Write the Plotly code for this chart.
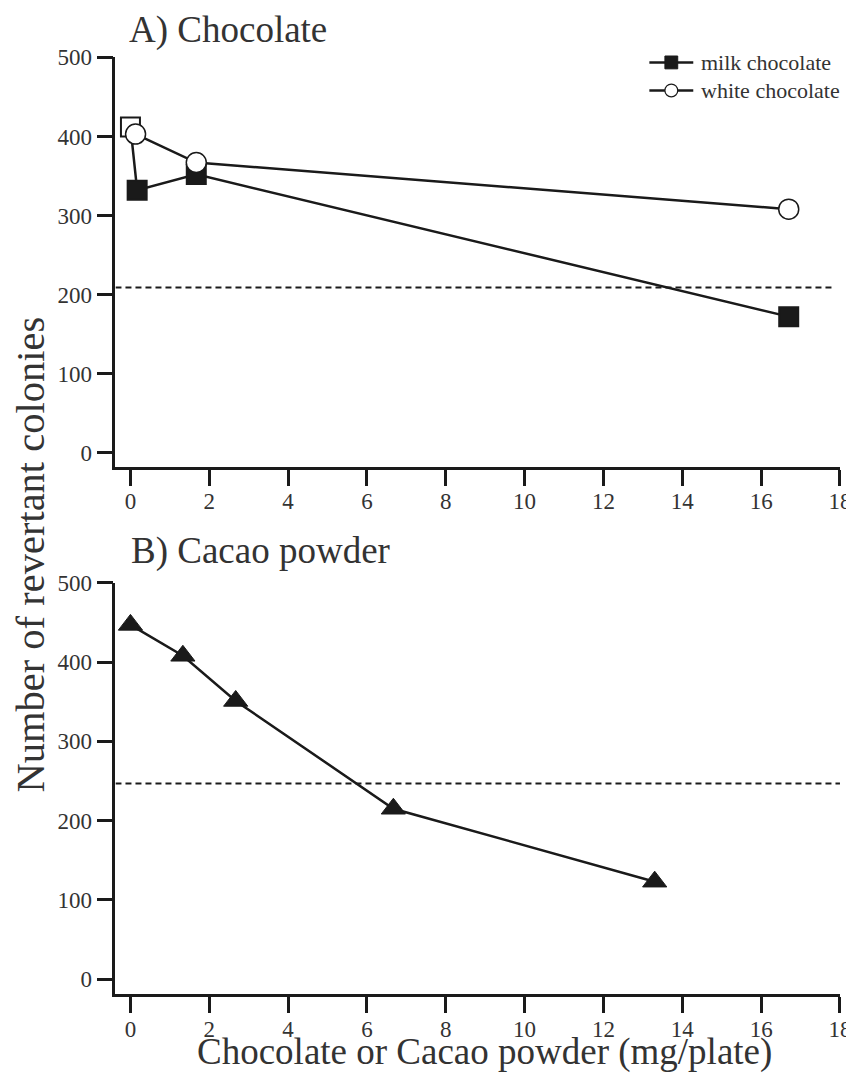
import plotly.graph_objects as go

# ---- data ----
milk_x = [0, 0.17, 1.67, 16.7]
milk_y = [412, 332, 352, 172]
white_x = [0.13, 1.67, 16.7]
white_y = [403, 367, 308]
cacao_x = [0, 1.33, 2.67, 6.67, 13.3]
cacao_y = [447, 408, 351, 215, 123]
control_a = 209
control_b = 247
x_ticks = [0, 2, 4, 6, 8, 10, 12, 14, 16, 18]
y_ticks = [0, 100, 200, 300, 400, 500]
legend_names = ["milk chocolate", "white chocolate"]

FONT = "Liberation Serif"
INK = "#1a1a1a"
TXT = "#333"

W, H = 854, 1075
OFF = 8
# measured page -> picture mapping of the photographing step
S, BX, BY = 0.988, -0.6, 11.7


def px(v):
    page = (v - BX) / S
    return (page - OFF) / W


def py(v):
    page = (v - BY) / S
    return 1 - (page - OFF) / H


fig = go.Figure()

fig.add_trace(go.Scatter(
    x=milk_x, y=milk_y, mode="lines+markers", name=legend_names[0],
    line=dict(color=INK, width=2.5),
    marker=dict(symbol="square", size=19, color=["white", INK, INK, INK],
                line=dict(color=INK, width=2)),
    xaxis="x", yaxis="y"))
fig.add_trace(go.Scatter(
    x=white_x, y=white_y, mode="lines+markers", name=legend_names[1],
    line=dict(color=INK, width=2.5),
    marker=dict(symbol="circle", size=20, color="white", line=dict(color=INK, width=1.5)),
    xaxis="x", yaxis="y"))
fig.add_trace(go.Scatter(
    x=cacao_x, y=cacao_y, mode="lines+markers", name="cacao powder",
    line=dict(color=INK, width=2.5),
    marker=dict(symbol="triangle-up", size=21, color=INK, line=dict(color=INK, width=1)),
    xaxis="x2", yaxis="y2"))

fig.add_shape(type="line", xref="x", yref="y", x0=-0.38, x1=17.85,
              y0=control_a, y1=control_a, line=dict(color=INK, width=2, dash="6px,4px"))
fig.add_shape(type="line", xref="x2", yref="y2", x0=-0.38, x1=18.1,
              y0=control_b, y1=control_b, line=dict(color=INK, width=2, dash="6px,4px"))

# legend key (drawn in paper space)
for i, name in enumerate(legend_names):
    yc = py(62 + 28 * i)
    fig.add_shape(type="line", xref="paper", yref="paper",
                  x0=px(650), x1=px(694), y0=yc, y1=yc, line=dict(color=INK, width=2.5))
    hx = 6.5 / W
    hy = 6.5 / H
    if i == 0:
        fig.add_shape(type="rect", xref="paper", yref="paper",
                      x0=px(672) - hx, x1=px(672) + hx, y0=yc - hy, y1=yc + hy,
                      fillcolor=INK, line=dict(color=INK, width=1))
    else:
        fig.add_shape(type="circle", xref="paper", yref="paper",
                      x0=px(672) - hx, x1=px(672) + hx, y0=yc - hy, y1=yc + hy,
                      fillcolor="white", line=dict(color=INK, width=1.2))
    fig.add_annotation(text=name, xref="paper", yref="paper", x=px(700), y=yc,
                       xanchor="left", yanchor="middle", showarrow=False,
                       font=dict(family=FONT, size=22, color=TXT))

xd = [px(115), px(841)]
axis_common = dict(
    showline=True, linecolor=INK, linewidth=2.5,
    ticks="outside", ticklen=16, tickwidth=2.5, tickcolor=INK,
    showgrid=False, zeroline=False,
    tickfont=dict(family=FONT, size=23, color=TXT),
)

fig.update_layout(
    width=W, height=H, margin=dict(l=0, r=0, t=0, b=0),
    paper_bgcolor="white", plot_bgcolor="white",
    font=dict(family=FONT, color=INK),
    showlegend=False,
    xaxis=dict(domain=xd, range=[-0.38, 18], tickvals=x_ticks, anchor="y",
               ticklabelstandoff=-4, ticklabeloverflow="allow", **axis_common),
    yaxis=dict(domain=[py(466), py(57)], range=[-18, 500], tickvals=y_ticks, anchor="x",
               **axis_common),
    xaxis2=dict(domain=xd, range=[-0.38, 18], tickvals=x_ticks, anchor="y2",
                ticklabelstandoff=-4, ticklabeloverflow="allow", **axis_common),
    yaxis2=dict(domain=[py(993), py(582)], range=[-19, 500], tickvals=y_ticks, anchor="x2",
                **axis_common),
)

fig.add_annotation(text="A) Chocolate", xref="paper", yref="paper",
                   x=px(127), y=py(30), xanchor="left", yanchor="middle",
                   showarrow=False, font=dict(family=FONT, size=37, color=TXT))
fig.add_annotation(text="B) Cacao powder", xref="paper", yref="paper",
                   x=px(129), y=py(550), xanchor="left", yanchor="middle",
                   showarrow=False, font=dict(family=FONT, size=37, color=TXT))
fig.add_annotation(text="Number of revertant colonies", xref="paper", yref="paper",
                   x=px(30), y=py(554), xanchor="center", yanchor="middle",
                   textangle=-90, showarrow=False, font=dict(family=FONT, size=40.5, color=TXT))
fig.add_annotation(text="Chocolate or Cacao powder (mg/plate)", xref="paper", yref="paper",
                   x=px(485), y=py(1051), xanchor="center", yanchor="middle",
                   showarrow=False, font=dict(family=FONT, size=37, color=TXT))

fig.write_html("out.html")
